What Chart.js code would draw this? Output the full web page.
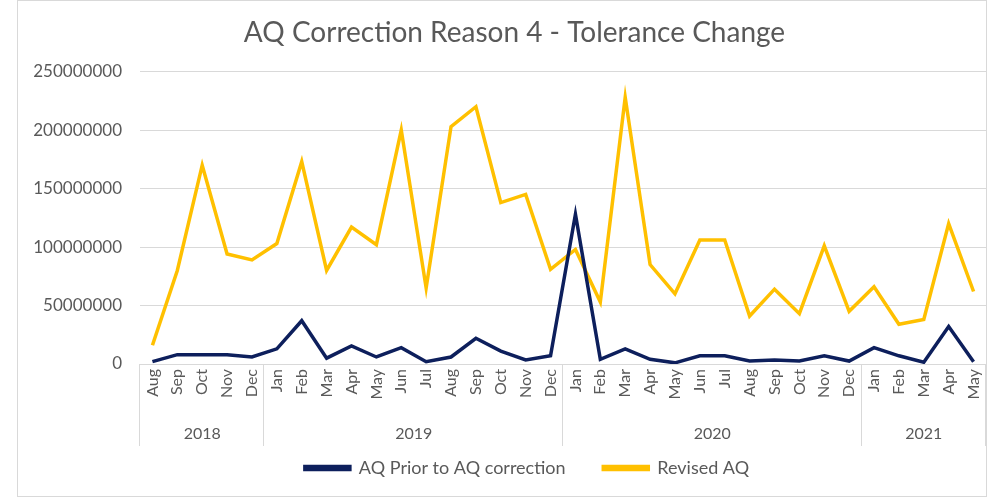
<!DOCTYPE html>
<html>
<head>
<meta charset="utf-8">
<script src="https://cdn.jsdelivr.net/npm/chart.js@4/dist/chart.umd.min.js"></script>
<style>
  html, body { margin: 0; padding: 0; background: #fff; }
  #box {
    position: absolute; left: 17px; top: 0; width: 968px; height: 495px;
    border: 1px solid #d9d9d9; background: #fff;
  }
  canvas { display: block; }
</style>
</head>
<body>
<div id="box"><canvas id="aqChart" width="968" height="495"></canvas></div>
<script>
// data
const months = ['Aug','Sep','Oct','Nov','Dec',
  'Jan','Feb','Mar','Apr','May','Jun','Jul','Aug','Sep','Oct','Nov','Dec',
  'Jan','Feb','Mar','Apr','May','Jun','Jul','Aug','Sep','Oct','Nov','Dec',
  'Jan','Feb','Mar','Apr','May'];
const years = ['2018', '2019', '2020', '2021'];
const monthsPerYear = [5, 12, 12, 5];

const priorAQ = [2e6, 8e6, 8e6, 8e6, 6e6,
  13e6, 37e6, 5e6, 15.5e6, 6e6, 14e6, 2e6, 6e6, 22e6, 11e6, 3.5e6, 7e6,
  128e6, 4e6, 13e6, 4e6, 1e6, 7e6, 7e6, 2.5e6, 3.5e6, 2.5e6, 7e6, 2.5e6,
  14e6, 7e6, 1.5e6, 32e6, 2e6];
const revisedAQ = [16e6, 80e6, 170e6, 94e6, 89e6,
  103e6, 173e6, 80e6, 117e6, 102e6, 200e6, 65e6, 203e6, 220e6, 138e6, 145e6, 81e6,
  98e6, 53e6, 228e6, 85e6, 60e6, 106e6, 106e6, 41e6, 64e6, 43e6, 101e6, 45e6,
  66e6, 34e6, 38e6, 120e6, 62e6];

const yTicks = [0, 50000000, 100000000, 150000000, 200000000, 250000000];

const textColor = '#595959';
const gridColor = '#d9d9d9';

// title and legend sit a bit right of the canvas centre, like the original
const nudgeBoxes = {
  id: 'nudgeBoxes',
  afterLayout(chart) {
    if (chart.titleBlock) chart.titleBlock.left += 25;
    if (chart.legend) chart.legend.left += 50;
  }
};

// year row under the month labels, with separators
const yearGroups = {
  id: 'yearGroups',
  afterDraw(chart) {
    const ctx = chart.ctx;
    const x = chart.scales.x;
    const top = chart.chartArea.bottom;
    const bottom = top + 82;
    const edges = [x.left];
    let idx = 0;
    monthsPerYear.forEach((n, i) => {
      idx += n;
      if (i < monthsPerYear.length - 1) {
        edges.push((x.getPixelForValue(idx - 1) + x.getPixelForValue(idx)) / 2);
      }
    });
    edges.push(x.right);

    ctx.save();
    ctx.strokeStyle = gridColor;
    ctx.lineWidth = 1;
    edges.forEach(px => {
      ctx.beginPath();
      ctx.moveTo(Math.round(px) - 0.5, top);
      ctx.lineTo(Math.round(px) - 0.5, bottom);
      ctx.stroke();
    });
    ctx.fillStyle = textColor;
    ctx.font = '16px Lato';
    ctx.textAlign = 'center';
    ctx.textBaseline = 'middle';
    years.forEach((y, i) => {
      ctx.fillText(y, (edges[i] + edges[i + 1]) / 2, top + 70);
    });
    ctx.restore();
  }
};

new Chart(document.getElementById('aqChart'), {
  type: 'line',
  data: {
    labels: months,
    datasets: [
      {
        label: 'AQ Prior to AQ correction',
        data: priorAQ,
        borderColor: '#0d1f5c',
        backgroundColor: '#0d1f5c',
        borderWidth: 3.5,
        pointRadius: 0,
        tension: 0
      },
      {
        label: 'Revised AQ',
        data: revisedAQ,
        borderColor: '#ffc000',
        backgroundColor: '#ffc000',
        borderWidth: 3.5,
        pointRadius: 0,
        tension: 0
      }
    ]
  },
  options: {
    responsive: false,
    animation: false,
    layout: { padding: { top: 0, right: 0, bottom: 9, left: 0 } },
    plugins: {
      title: {
        display: true,
        text: 'AQ Correction Reason 4 - Tolerance Change',
        color: textColor,
        font: { family: 'Lato', size: 28, weight: 'normal' },
        padding: { top: 15, bottom: 22 }
      },
      legend: {
        position: 'bottom',
        labels: {
          color: textColor,
          font: { family: 'Lato', size: 18 },
          boxWidth: 45,
          boxHeight: 3,
          padding: 13,
          // extra space after each item except the last one
          generateLabels(chart) {
            const items = Chart.defaults.plugins.legend.labels.generateLabels(chart);
            items.forEach((it, i) => {
              if (i < items.length - 1) it.text += '\u2003\u2002\u2009';
            });
            return items;
          }
        }
      },
      tooltip: { enabled: false }
    },
    scales: {
      x: {
        offset: true,
        grid: { display: false, drawTicks: false },
        border: { display: false },
        ticks: {
          color: textColor,
          font: { family: 'Lato', size: 16 },
          minRotation: 90,
          maxRotation: 90,
          autoSkip: false,
          padding: 5
        },
        afterFit(scale) {
          scale.height = 82;
          scale.paddingLeft = 0;
          scale.paddingRight = 0;
        }
      },
      y: {
        min: 0,
        max: 250000000,
        afterBuildTicks(scale) { scale.ticks = yTicks.map(v => ({ value: v })); },
        grid: { color: gridColor, drawTicks: false },
        border: { display: false },
        ticks: {
          color: textColor,
          font: { family: 'Lato', size: 17 },
          padding: 18,
          callback: v => String(v)
        },
        afterFit(scale) { scale.width = 122; }
      }
    }
  },
  plugins: [nudgeBoxes, yearGroups]
});
</script>
</body>
</html>
